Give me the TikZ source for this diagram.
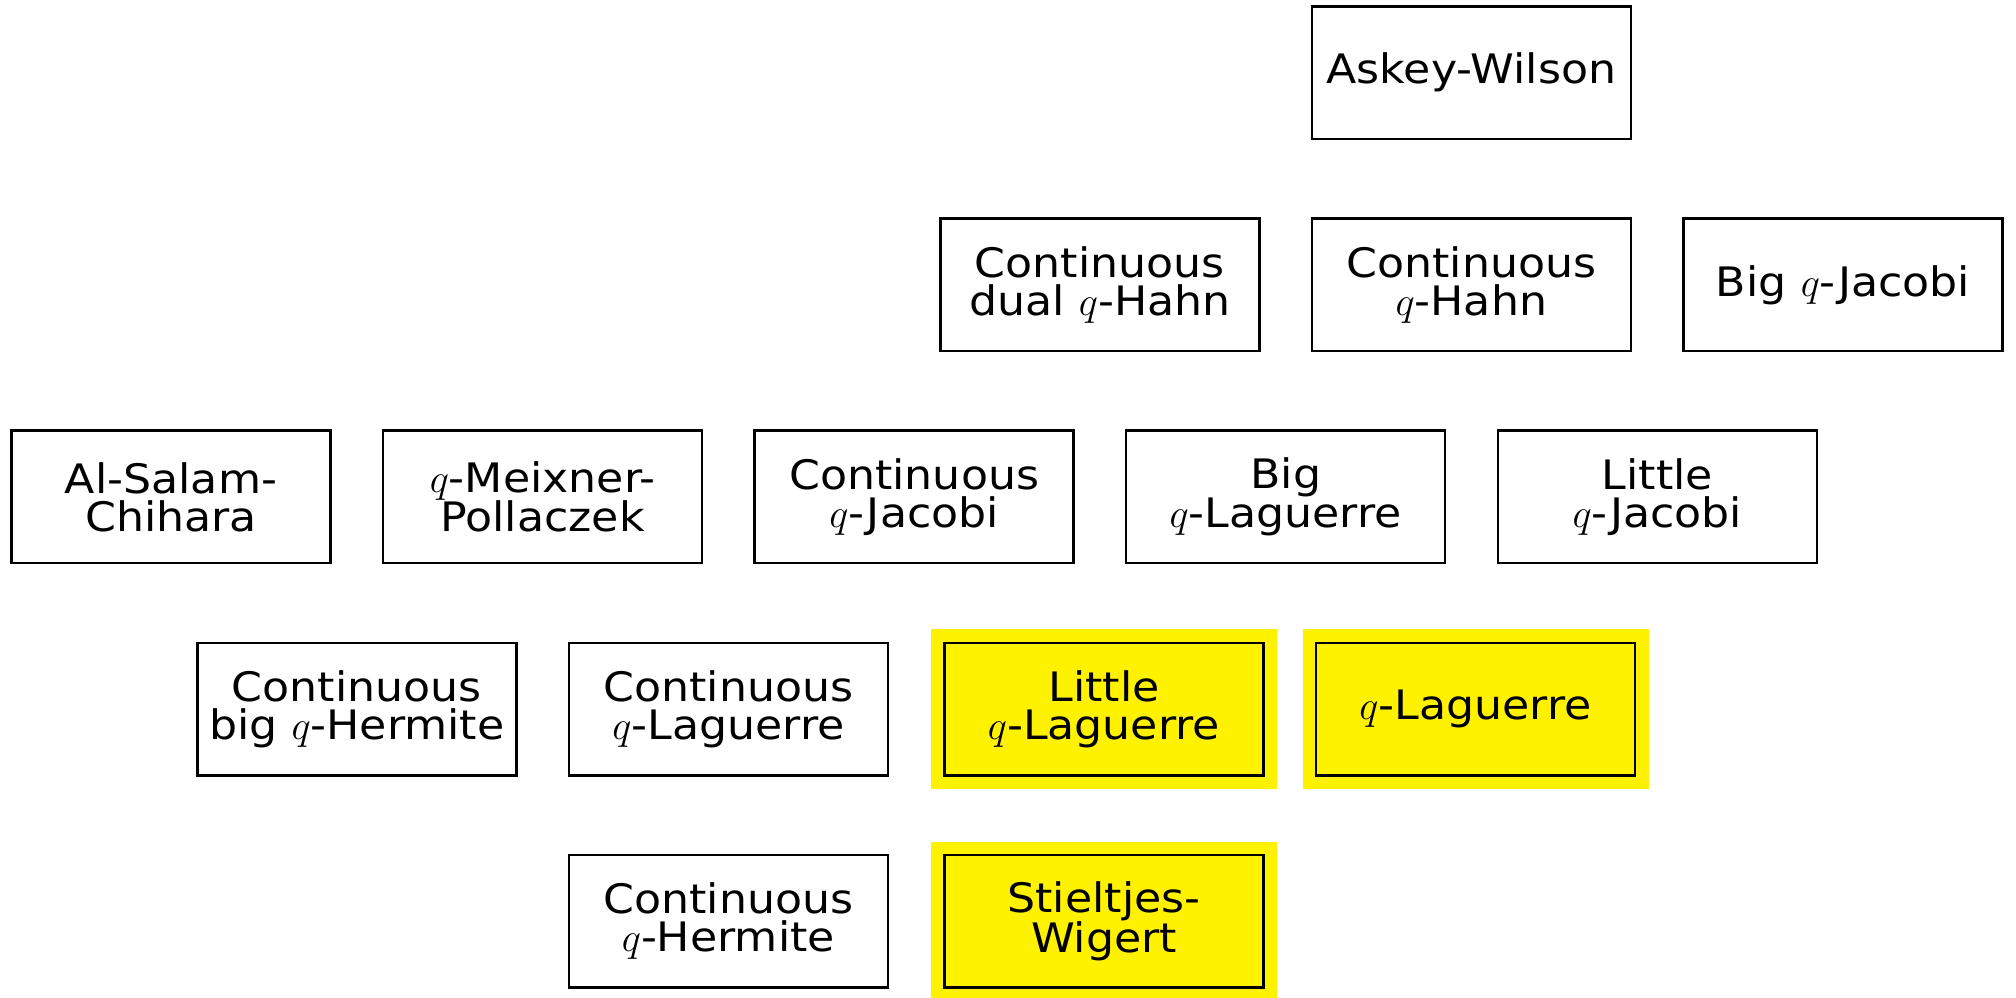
\documentclass[tikz,border=0pt]{standalone}
\usepackage{fix-cm}
\usepackage{fontspec}
\setmainfont{DejaVu Sans}[FakeStretch=1.09]
\begin{document}
\begin{tikzpicture}[x=1pt,y=-1pt,
  famnode/.style={draw, line width=2.5pt, minimum width=319pt, minimum height=132.4pt,
    inner sep=0pt, align=center, font=\fontsize{40.6pt}{38pt}\selectfont},
  hlnode/.style={famnode, fill=yellow, preaction={draw=yellow, line width=27pt}}]
\useasboundingbox (0,0) rectangle (2016,998);
% row 1
\node[famnode] (aw) at (1471.4,72.6) {Askey-Wilson};
% row 2
\node[famnode] (cdqh) at (1099.9,284.8) {Continuous\\dual $q$-Hahn};
\node[famnode] (cqh) at (1471.4,284.8) {Continuous\\$q$-Hahn};
\node[famnode] (bqj) at (1843.1,284.8) {Big $q$-Jacobi};
% row 3
\node[famnode] (asc) at (171,496.9) {Al-Salam-\\Chihara};
\node[famnode] (qmp) at (542.6,496.9) {$q$-Meixner-\\Pollaczek};
\node[famnode] (cqj) at (914.2,496.9) {Continuous\\$q$-Jacobi};
\node[famnode] (bql) at (1285.7,496.9) {Big\\$q$-Laguerre};
\node[famnode] (lqj) at (1657.3,496.9) {Little\\$q$-Jacobi};
% row 4
\node[famnode] (cbqh) at (356.8,709.1) {Continuous\\big $q$-Hermite};
\node[famnode] (cql) at (728.4,709.1) {Continuous\\$q$-Laguerre};
\node[hlnode] (lql) at (1104,709.1) {Little\\$q$-Laguerre};
\node[hlnode] (ql) at (1475.5,709.1) {$q$-Laguerre};
% row 5
\node[famnode] (cqhe) at (728.4,921.2) {Continuous\\$q$-Hermite};
\node[hlnode] (sw) at (1104,921.2) {Stieltjes-\\Wigert};
\end{tikzpicture}
\end{document}
